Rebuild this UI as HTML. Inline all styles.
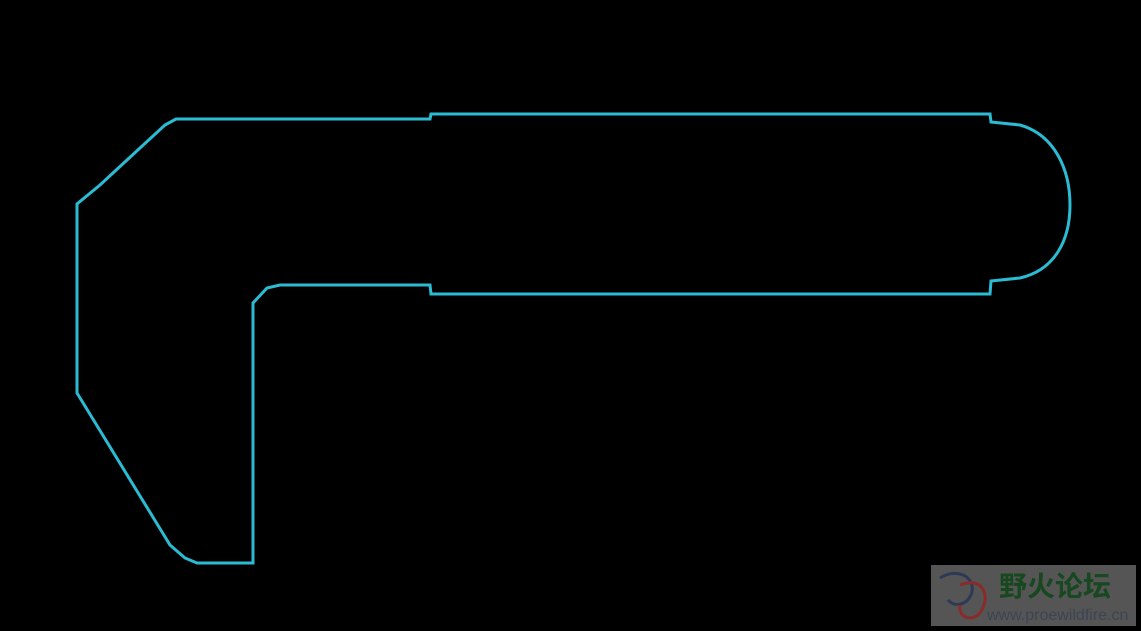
<!DOCTYPE html>
<html><head><meta charset="utf-8"><style>
html,body{margin:0;padding:0;background:#000;width:1141px;height:631px;overflow:hidden}
</style></head><body>
<svg width="1141" height="631" viewBox="0 0 1141 631" xmlns="http://www.w3.org/2000/svg" style="position:absolute;left:0;top:0">
<rect width="1141" height="631" fill="#000"/>
<path d="M176,119 L430,119 L431,114 L990,114 L991,122 L1020,125 C1055,135 1070,170 1070,205 C1070,240 1055,270 1020,278 L991,281 L990,294 L431,294 L430,285 L280,285 L267,288 L253,303 L253,563 L197,563 L185,558 L170,545 L77,393 L77,204 L100,185 L140,148 L165,125 Z" fill="none" stroke="#2bbcd4" stroke-width="3"/>
<rect x="931" y="565" width="205" height="61" fill="#555555"/>
<path d="M940,578 C955,568 975,575 972,592 C968,605 955,608 948,600" fill="none" stroke="#2d3a55" stroke-width="3"/>
<path d="M960,585 C985,575 992,600 978,615 C968,622 958,615 960,605" fill="none" stroke="#8a2a2a" stroke-width="3"/>
<text x="999" y="596" font-family="'Liberation Sans','Noto Sans CJK SC',sans-serif" font-size="28" font-weight="bold" fill="#17481f">野火论坛</text>
<text x="987" y="620" font-family="'Liberation Sans',sans-serif" font-size="16" fill="#3c4454">www.proewildfire.cn</text>
</svg>
</body></html>
